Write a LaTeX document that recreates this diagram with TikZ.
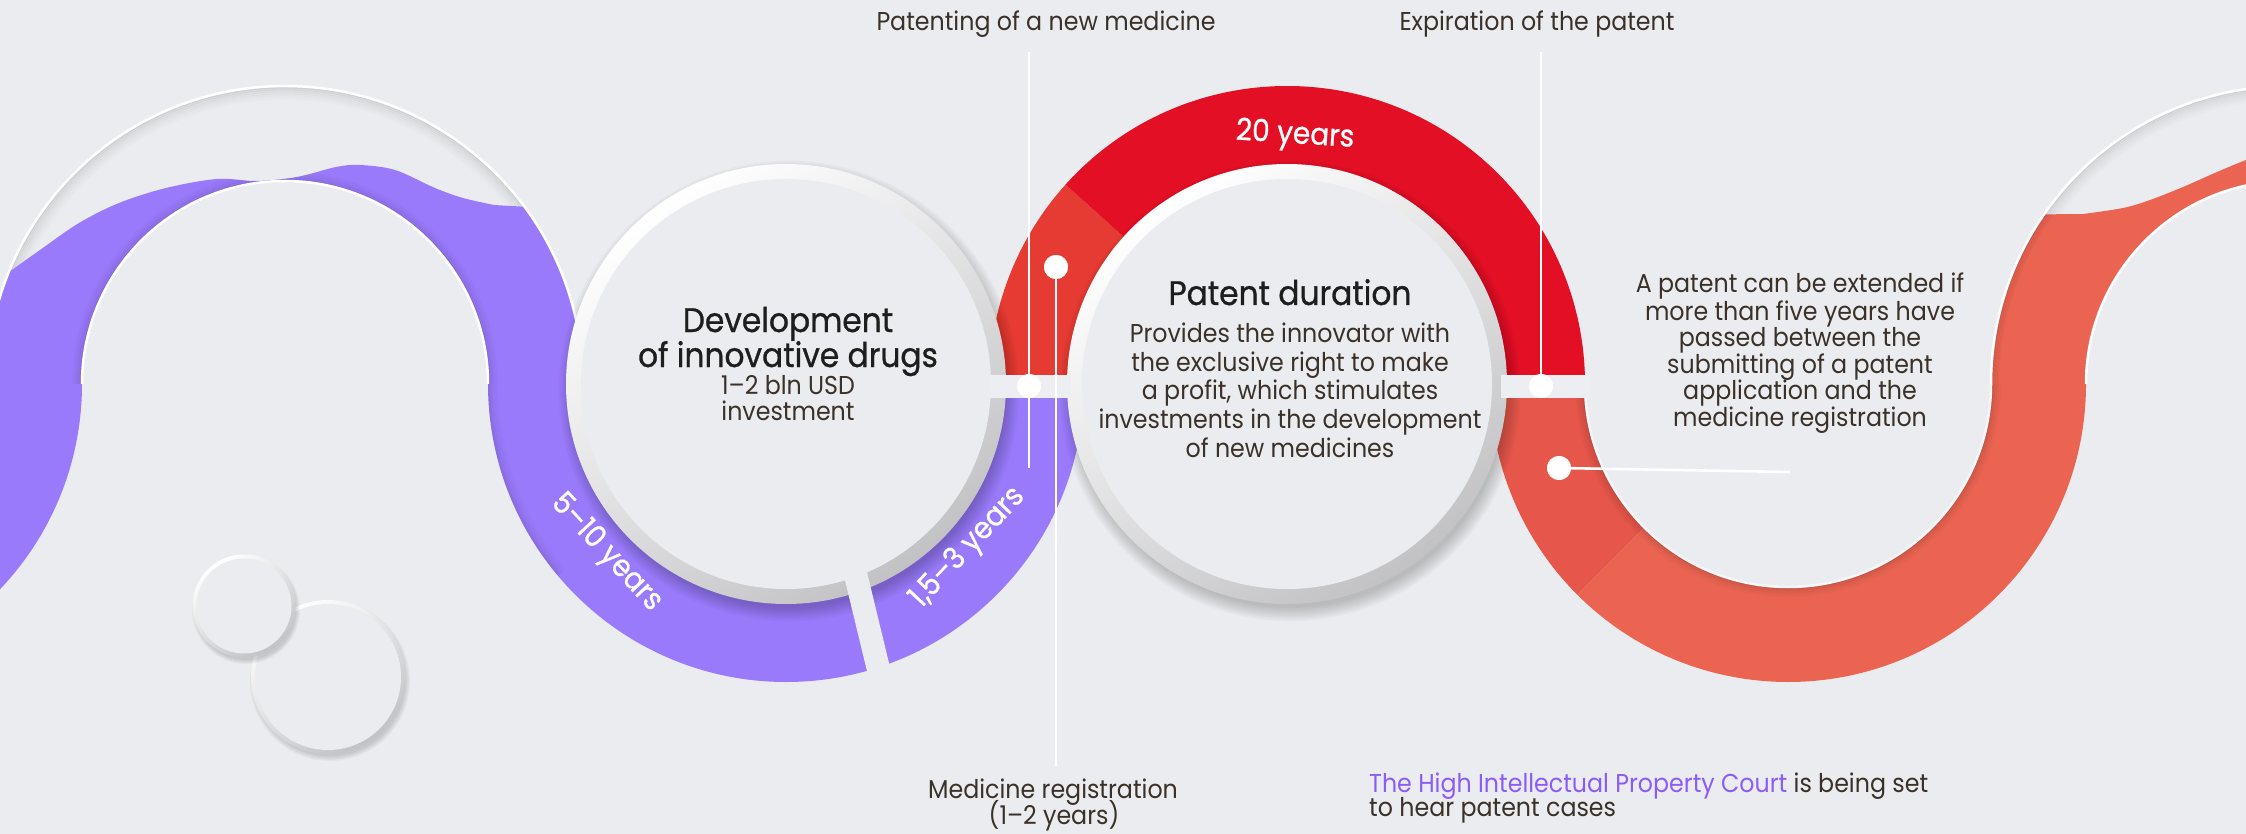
\documentclass[tikz,border=0pt]{standalone}
\usepackage{fontspec}
\setmainfont{Poppins}[FakeStretch=0.92]
\newfontfamily\titlefont{Poppins}[FakeStretch=0.92,FakeBold=0.8]
\usetikzlibrary{calc}
\definecolor{bgc}{HTML}{EBECEF}
\definecolor{bandc}{HTML}{EDEEF1}
\definecolor{purp}{HTML}{997AFA}
\definecolor{redA}{HTML}{E30F24}
\definecolor{redB}{HTML}{E63B32}
\definecolor{oraA}{HTML}{EB6452}
\definecolor{oraB}{HTML}{E6564A}
\definecolor{rimgrey}{HTML}{C2C2C5}
\definecolor{cText}{HTML}{3A3129}
\definecolor{cTitle}{HTML}{1E1E1E}
\definecolor{cCourt}{HTML}{8B5CF6}
\newcommand\neucircle[3]{%
  \foreach \k in {1,...,9}{\fill[black, opacity=0.022] ($(#1)+(3,7)$) circle ({#2-5+1.7*\k});}
  \shade[top color=white, bottom color=rimgrey, shading angle=35] (#1) circle (#2);
  \fill[bgc] (#1) circle ({#2-#3});
}
\begin{document}
\begin{tikzpicture}[x=1pt,y=-1pt,
  annul/.style n args={5}{insert path={(#1) ++(#2:#5) arc[start angle=#2,end angle=#3,radius=#5] -- ($(#1)+(#3:#4)$) arc[start angle=#3,end angle=#2,radius=#4] -- cycle}},
  lwave/.style={insert path={(L) ++(0:298) arc[start angle=0,end angle=-36.5,radius=298] -- plot[smooth,tension=0.55] coordinates {(494,205) (463,198) (435,188) (395,170) (360,165) (336,167) (297,177) (257,181) (217,179) (166,188) (119,203) (79,223) (40,250) (9,272)} arc[start angle=-158,end angle=-180,radius=298] -- ($(L)+(-203,0)$) arc[start angle=-180,end angle=0,radius=203] -- cycle}},
  rwave/.style={insert path={(R) ++(180:298) arc[start angle=180,end angle=214.7,radius=298] -- plot[smooth,tension=0.55] coordinates {(2083,214) (2123,208) (2150,200) (2183,187) (2217,172) (2246,160) (2275,150)} -- ($(R)+(266:203)$) arc[start angle=266,end angle=180,radius=203] -- cycle}},
  lt/.style={font=\fontsize{25.8}{30}\selectfont, text=cText, inner sep=0pt, anchor=base, text height=18pt, text depth=5pt},
  ttlst/.style={font=\titlefont\fontsize{34}{40}\selectfont, text=cTitle, inner sep=0pt, anchor=base, text height=24pt, text depth=7pt},
  yl/.style={font=\titlefont\fontsize{30.5}{36}\selectfont, text=white, inner sep=0pt},
  wl/.style={white, line width=2.6pt},
  dot/.style={circle, fill=white, minimum size=24pt, inner sep=0pt}]
\useasboundingbox (0,0) rectangle (2246,834);
\clip (0,0) rectangle (2246,834);
\fill[bgc] (0,0) rectangle (2246,834);

\coordinate (LL) at (-216,384);
\coordinate (L) at (285,384);
\coordinate (D) at (786,384);
\coordinate (P) at (1287,384);
\coordinate (O) at (1788,384);
\coordinate (R) at (2289,384);

% inner shadows of the outline tracks
\foreach \c in {L,R}{
  \foreach \k/\o in {1/0.10,3/0.08,5/0.06,7/0.045,9/0.03,11/0.02,13/0.01}{
    \draw[black, opacity=\o, line width=2.2pt] (\c) ++(180:{298-\k}) arc[start angle=180,end angle=360,radius={298-\k}];
  }
}

% coloured bands
\fill[purp, lwave];
\fill[purp, annul={LL}{0}{180}{203}{298}];
\fill[purp, annul={D}{0}{180}{203}{298}];
\fill[purp] (-14,381) rectangle (82,387);
\fill[purp] (488.5,381) rectangle (583,387);
\fill[redB, annul={P}{180}{222}{203}{298}];
\fill[redA, annul={P}{222}{360}{203}{298}];
\fill[oraB, annul={O}{135}{180}{203}{298}];
\fill[oraA, annul={O}{0}{135}{203}{298}];
\fill[oraA, rwave];
\fill[oraA] (1991,381) rectangle (2085.5,387);

% soft shading inside bands
\begin{scope}
  \clip[lwave];
  \foreach \k/\o in {1/0.10,3/0.07,5/0.05,7/0.03,9/0.015}{
    \draw[black, opacity=\o, line width=2.2pt] (L) ++(180:{203+\k}) arc[start angle=180,end angle=360,radius={203+\k}];
  }
\end{scope}
\begin{scope}
  \clip[annul={D}{0}{180}{203}{298}];
  \foreach \k/\o in {1/0.09,3/0.06,5/0.04,7/0.025,9/0.012}{
    \draw[black, opacity=\o, line width=2.2pt] (D) ++(140:{298-\k}) arc[start angle=140,end angle=180,radius={298-\k}];
  }
\end{scope}
\begin{scope}
  \clip[annul={O}{0}{180}{203}{298}];
  \foreach \k/\o in {1/0.12,3/0.09,5/0.06,7/0.04,9/0.02}{
    \draw[black, opacity=\o, line width=2.2pt] (O) ++(0:{203+\k}) arc[start angle=0,end angle=180,radius={203+\k}];
  }
\end{scope}
\begin{scope}
  \clip[rwave];
  \foreach \k/\o in {1/0.10,3/0.07,5/0.05,7/0.03}{
    \draw[black, opacity=\o, line width=2.2pt] (R) ++(180:{298-\k}) arc[start angle=180,end angle=270,radius={298-\k}];
  }
\end{scope}

% rims of tracks and hollows
\foreach \c in {L,R}{
  \draw[white, line width=2.5pt] (\c) ++(180:298) arc[start angle=180,end angle=360,radius=298];
  \draw[white, line width=2.5pt] (\c) ++(180:203) arc[start angle=180,end angle=360,radius=203];
}
\draw[white!60!bgc, line width=2.5pt] (O) ++(0:203) arc[start angle=0,end angle=180,radius=203];

% main circles
\neucircle{D}{220}{15}
\neucircle{P}{220}{15}

% slit in the purple band
\fill[bgc] (843,572) -- (866,568) -- (896,692) -- (873,696) -- cycle;

% separating band
\fill[bandc] (990,375) rectangle (1071,398);
\fill[bandc] (1501,375) rectangle (1590,398);

% small decorative circles
\foreach \k in {1,...,5}{\fill[black, opacity=0.03] ($(328,677)+(2,4)$) circle ({74+1.2*\k});}
\shade[top color=white, bottom color=rimgrey, shading angle=35] (328,677) circle (77);
\fill[bgc] (328,677) circle (73);
\foreach \k in {1,...,5}{\fill[black, opacity=0.03] ($(244,606)+(2,4)$) circle ({49+1.0*\k});}
\shade[top color=white, bottom color=rimgrey, shading angle=35] (244,606) circle (51.5);
\fill[bgc] (244,606) circle (47.5);

% connectors
\coordinate (t1) at (1029,52);
\coordinate (b1) at (1029,468);
\coordinate (b2) at (1056,766);
\coordinate (t3) at (1541,52);
\coordinate (e4) at (1790,472);
\node[dot] (d1) at (1029,386) {};
\node[dot] (d2) at (1056,267) {};
\node[dot] (d3) at (1541,386) {};
\node[dot] (d4) at (1559,468) {};
\draw[wl] (t1) -- (b1);
\draw[wl] (d2.center) -- (b2);
\draw[wl] (t3) -- (d3.center);
\draw[wl] (d4.center) -- (e4);
\node[dot] at (d1) {};
\node[dot] at (d2) {};
\node[dot] at (d3) {};
\node[dot] at (d4) {};

% labels
\node[lt] (lab1) at (1046,31) {Patenting of a new medicine};
\node[lt] (lab2) at (1537,31) {Expiration of the patent};
\node[lt] (lab3) at (1053,798) {Medicine registration};
\node[lt] (lab4) at (1054,824) {(1–2 years)};

\node[ttlst] (dev1) at (788,332) {Development};
\node[ttlst] (dev2) at (788,367) {of innovative drugs};
\node[lt] (dev3) at (788,394) {1–2 bln USD};
\node[lt] (dev4) at (788,420) {investment};

\node[ttlst] (pd0) at (1290,305) {Patent duration};
\node[lt] (pd1) at (1290,342) {Provides the innovator with};
\node[lt] (pd2) at (1290,371) {the exclusive right to make};
\node[lt] (pd3) at (1290,399.5) {a profit, which stimulates};
\node[lt] (pd4) at (1290,428) {investments in the development};
\node[lt] (pd5) at (1290,457) {of new medicines};

\node[lt] (ex1) at (1800,293) {A patent can be extended if};
\node[lt] (ex2) at (1800,320) {more than five years have};
\node[lt] (ex3) at (1800,346.5) {passed between the};
\node[lt] (ex4) at (1800,373) {submitting of a patent};
\node[lt] (ex5) at (1800,399.5) {application and the};
\node[lt] (ex6) at (1800,426) {medicine registration};

\node[lt, anchor=base west] (ct1) at (1369,792) {\textcolor{cCourt}{The High Intellectual Property Court} is being set};
\node[lt, anchor=base west] (ct2) at (1369,816) {to hear patent cases};

\node[yl, rotate=-3.5] (y20) at (1295,136) {20 years};
\node[yl, rotate=-47] (y510) at (606,553) {5–10 years};
\node[yl, rotate=47] (y153) at (968,548) {1,5–3 years};
\end{tikzpicture}
\end{document}
